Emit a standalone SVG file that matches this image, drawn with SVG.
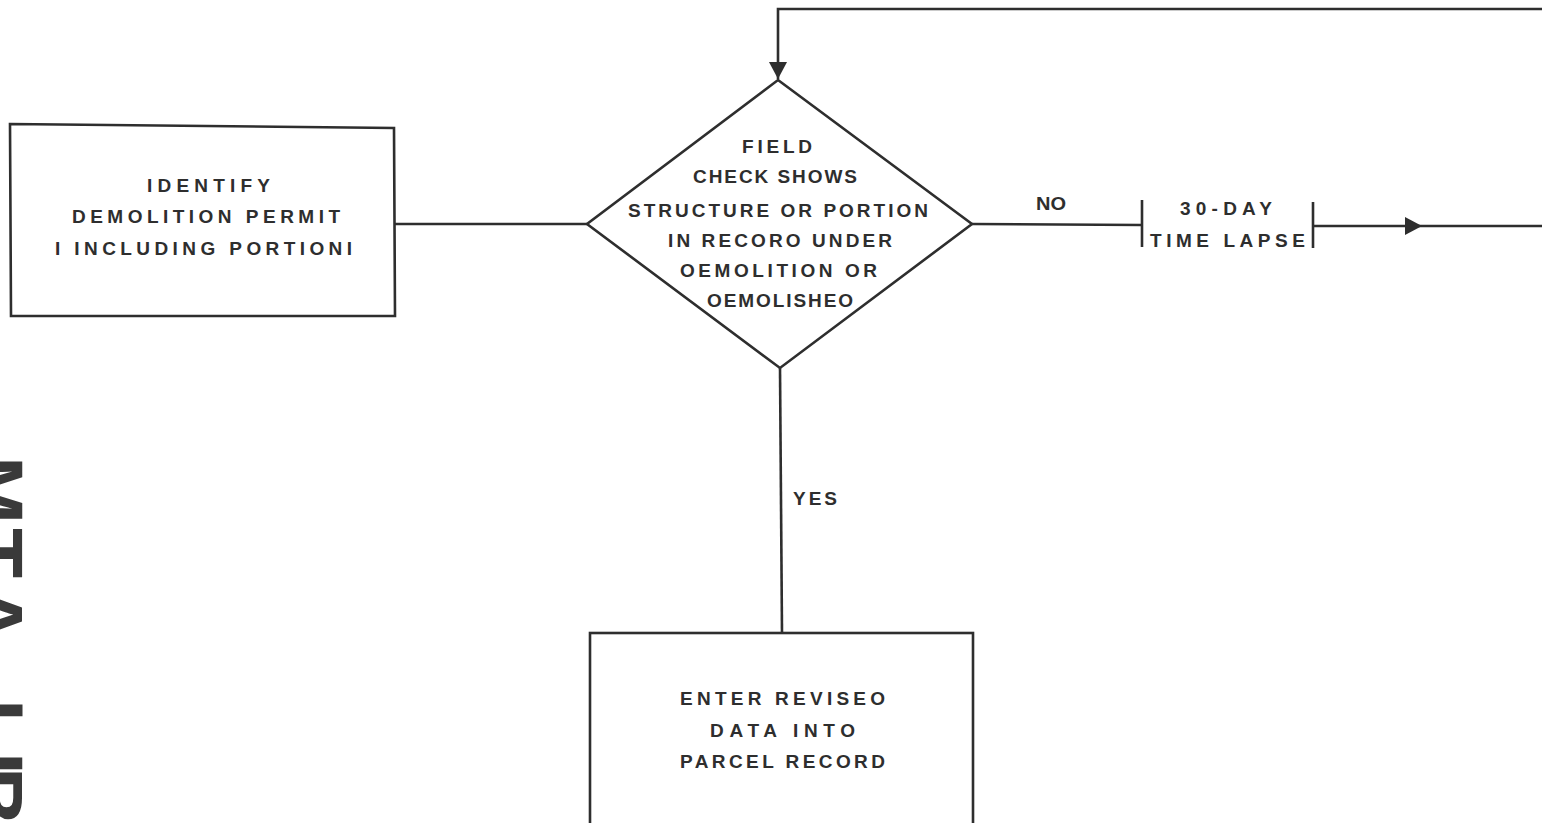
<svg xmlns="http://www.w3.org/2000/svg" width="1542" height="823" viewBox="0 0 1542 823">
<style>
.bg{fill:#ffffff}
.shape{fill:none;stroke:#2e2e2e;stroke-width:2.6}
.line{fill:none;stroke:#2e2e2e;stroke-width:2.6}
.lbl{font-family:"Liberation Sans",Arial,sans-serif;font-size:19px;font-weight:bold;fill:#2e2e2e}
.stamp{font-family:"Liberation Sans",Arial,sans-serif;font-size:82px;font-weight:bold;fill:#3a3a3a}
</style>
<defs>
<marker id="arr" markerUnits="userSpaceOnUse" markerWidth="18" markerHeight="18" refX="17" refY="9" orient="auto">
<path d="M0,0 L17,9 L0,18 z" fill="#2e2e2e"/>
</marker>
</defs>
<rect class="bg" x="0" y="0" width="1542" height="823"/>

<g id="connectors">
<path class="line" d="M395,224 L587,224"/>
<path class="line" d="M972,224 L1142,225"/>
<path class="line" d="M1142,200 L1142,247"/>
<path class="line" d="M1313,202 L1313,248"/>
<path class="line" d="M1313,226 L1422,226 L1542,226" marker-mid="url(#arr)"/>
<path class="line" d="M1542,9 L778,9 L778,79" marker-end="url(#arr)"/>
<path class="line" d="M780,368 L782,633"/>
<text class="lbl" x="1036" y="210" style="font-size:18px" textLength="30" lengthAdjust="spacingAndGlyphs">NO</text>
<text class="lbl" x="793" y="505" textLength="44" lengthAdjust="spacing">YES</text>
</g>

<g id="node-identify">
<polygon class="shape" points="10,124 394,128 395,316 11,316"/>
<text class="lbl" x="147" y="192" textLength="123" lengthAdjust="spacing">IDENTIFY</text>
<text class="lbl" x="72" y="223" textLength="268" lengthAdjust="spacing">DEMOLITION PERMIT</text>
<text class="lbl" x="55" y="255" textLength="297" lengthAdjust="spacing">I INCLUDING PORTIONI</text>
</g>

<g id="node-fieldcheck">
<polygon class="shape" points="778,80 972,224 780,368 587,224"/>
<text class="lbl" x="742" y="153" textLength="70" lengthAdjust="spacing">FIELD</text>
<text class="lbl" x="693" y="183" textLength="164" lengthAdjust="spacing">CHECK SHOWS</text>
<text class="lbl" x="628" y="217" textLength="300" lengthAdjust="spacing">STRUCTURE OR PORTION</text>
<text class="lbl" x="668" y="247" textLength="224" lengthAdjust="spacing">IN RECORO UNDER</text>
<text class="lbl" x="680" y="277" textLength="197" lengthAdjust="spacing">OEMOLITION OR</text>
<text class="lbl" x="707" y="307" textLength="146" lengthAdjust="spacing">OEMOLISHEO</text>
</g>

<g id="node-timelapse">
<text class="lbl" x="1180" y="215" textLength="92" lengthAdjust="spacing">30-DAY</text>
<text class="lbl" x="1150" y="247" textLength="155" lengthAdjust="spacing">TIME LAPSE</text>
</g>

<g id="node-enter">
<rect class="shape" x="590" y="633" width="383" height="220"/>
<text class="lbl" x="680" y="705" textLength="205" lengthAdjust="spacing">ENTER REVISEO</text>
<text class="lbl" x="710" y="737" textLength="145" lengthAdjust="spacing">DATA INTO</text>
<text class="lbl" x="680" y="768" textLength="205" lengthAdjust="spacing">PARCEL RECORD</text>
</g>

<g id="stamp">
<text class="stamp" transform="translate(-34,460) rotate(90)"><tspan x="-4">M</tspan><tspan x="68">T</tspan><tspan x="125">A</tspan><tspan x="239">L</tspan><tspan x="292">I</tspan><tspan x="307">B</tspan></text>
</g>
</svg>
